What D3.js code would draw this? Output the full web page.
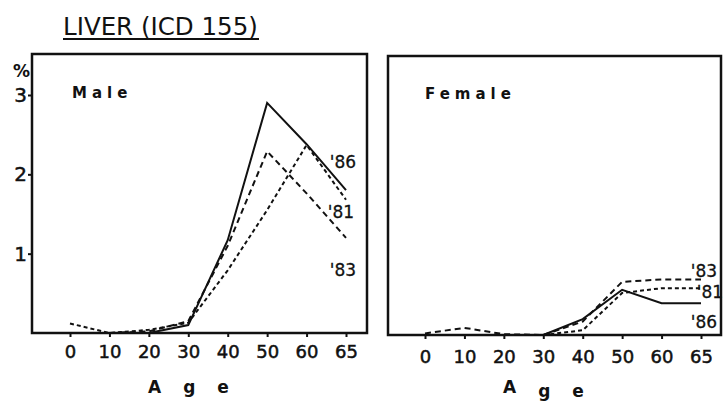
<!DOCTYPE html>
<html><head><meta charset="utf-8">
<script src="https://cdn.jsdelivr.net/npm/d3@7"></script>
<style>
body{margin:0;background:#fff;}
svg{display:block;}
text{fill:#111;}
</style></head>
<body>
<svg id="chart" width="725" height="401"></svg>
<script>
// ---- data ----
const ages = ["0","10","20","30","40","50","60","65"];
const yTicks = [1,2,3];
const seriesNames = ["'86","'81","'83"];
const male86 = [null,0,0,0.10,1.17,2.90,2.38,1.80];
const male81 = [0.12,0,0.04,0.13,0.79,1.55,2.37,1.68];
const male83 = [null,0,0.02,0.15,1.10,2.29,1.76,1.20];
const female86 = [null,null,null,0,0.20,0.57,0.40,0.40];
const female81 = [null,null,null,0,0.06,0.53,0.59,0.59];
const female83 = [0.02,0.09,0.01,0,0.17,0.67,0.70,0.70];

// ---- layout ----
const svg = d3.select("#chart");
const ink = "#111";
const dashes = {"'86":null, "'81":"4,3", "'83":"6,4"};

const panels = [
  {name:"Male", frame:{x0:32,x1:367,y0:54,y1:333}, xr:[70,346], y0:333,
   series:{"'86":male86,"'81":male81,"'83":male83},
   labels:{"'86":[343,168],"'81":[341,218],"'83":[343,276]}, yAxis:true,
   age:{x:148,y:393}, title:{x:72,y:98}, tickPad:8},
  {name:"Female", frame:{x0:388,x1:721,y0:56,y1:335}, xr:[425,701], y0:335,
   series:{"'86":female86,"'81":female81,"'83":female83},
   labels:{"'86":[704,328],"'81":[710,298],"'83":[704,277]}, yAxis:false,
   age:{x:503,y:393}, title:{x:425,y:99}, tickPad:11}
];

// title
svg.append("text").attr("x",63).attr("y",35)
  .attr("font-family","DejaVu Sans").attr("font-size",24.5)
  .text("LIVER (ICD 155)");
svg.append("line").attr("x1",63).attr("x2",259).attr("y1",39).attr("y2",39)
  .attr("stroke",ink).attr("stroke-width",2);

panels.forEach(p=>{
  const g = svg.append("g");
  const x = d3.scalePoint().domain(ages).range(p.xr);
  const y = d3.scaleLinear().domain([0,3]).range([p.y0, p.y0-238]);

  // frame
  g.append("rect").attr("x",p.frame.x0).attr("y",p.frame.y0)
    .attr("width",p.frame.x1-p.frame.x0).attr("height",p.frame.y1-p.frame.y0)
    .attr("fill","none").attr("stroke",ink).attr("stroke-width",2.5);

  // x axis
  const xa = g.append("g").attr("transform",`translate(0,${p.frame.y1})`)
    .call(d3.axisBottom(x).tickSize(4).tickPadding(p.tickPad));
  xa.select(".domain").remove();
  xa.selectAll("line").attr("stroke",ink).attr("stroke-width",2);
  xa.selectAll("text").attr("font-family","DejaVu Sans").attr("font-size",18).attr("fill",ink)
    .attr("stroke",ink).attr("stroke-width",0.5);

  // y axis
  if(p.yAxis){
    const ya = g.append("g").attr("transform",`translate(${p.frame.x0},0)`)
      .call(d3.axisLeft(y).tickValues(yTicks).tickSize(4).tickPadding(1).tickFormat(d3.format("d")));
    ya.select(".domain").remove();
    ya.selectAll("line").attr("stroke",ink).attr("stroke-width",2);
    ya.selectAll("text").attr("font-family","DejaVu Sans").attr("font-size",20).attr("fill",ink)
      .attr("stroke",ink).attr("stroke-width",0.5);
    g.append("text").attr("x",13).attr("y",77).attr("font-family","DejaVu Sans")
      .attr("font-weight","bold").attr("font-size",17).text("%");
  }

  // lines
  const line = d3.line().defined(d=>d.v!==null).x(d=>x(d.a)).y(d=>y(d.v));
  seriesNames.forEach(s=>{
    const data = ages.map((a,i)=>({a:a, v:p.series[s][i]}));
    g.append("path").datum(data).attr("d",line)
      .attr("fill","none").attr("stroke",ink).attr("stroke-width",2)
      .attr("stroke-dasharray",dashes[s]).attr("stroke-linejoin","miter");
    g.append("text").attr("x",p.labels[s][0]).attr("y",p.labels[s][1])
      .attr("text-anchor","middle").attr("font-family","DejaVu Sans").attr("font-size",17)
      .attr("stroke",ink).attr("stroke-width",0.3)
      .text(s);
  });

  // panel name
  g.append("text").attr("x",p.title.x).attr("y",p.title.y)
    .attr("font-family","DejaVu Sans").attr("font-weight","bold").attr("font-size",15)
    .attr("letter-spacing",5).text(p.name);

  // Age label
  const t = g.append("text").attr("x",p.age.x).attr("y",p.age.y)
    .attr("font-family","DejaVu Sans").attr("font-weight","bold").attr("font-size",17);
  t.append("tspan").text("A");
  t.append("tspan").attr("dx",22).attr("dy",p.yAxis?0:4).text("g");
  t.append("tspan").attr("dx",22).text("e");
});
</script>
</body></html>
